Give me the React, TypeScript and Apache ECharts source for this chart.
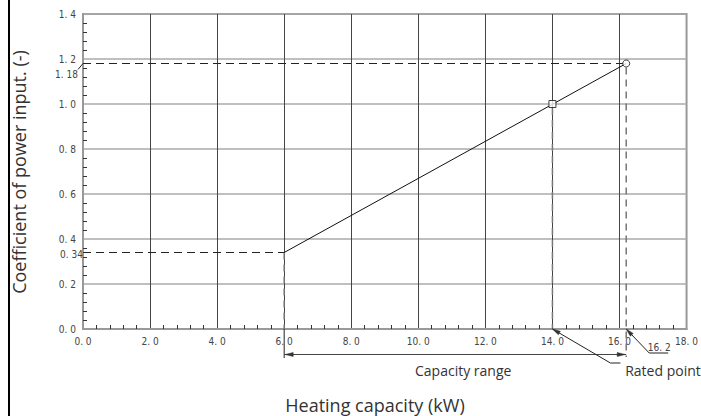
import React, { useEffect, useRef } from "react";
import * as echarts from "echarts";

// Data
const curveX = [6.0, 16.2];
const curveY = [0.34, 1.18];
const pointX = [14.0, 16.2];
const pointY = [1.0, 1.18];
const pointSymbols = ["rect", "circle"];
const xTicks = { min: 0, max: 18, interval: 2 };
const yTicks = { min: 0, max: 1.4, interval: 0.2 };
const minLabel = "0. 34";
const ratedLabel = "1. 18";
const ratedCapLabel = "16. 2";
const rangeLabel = "Capacity range";
const ratedText = "Rated point";
const xTitle = "Heating capacity (kW)";
const yTitle = "Coefficient of power input. (-)";

const fmt = (v: number) => v.toFixed(1).replace(".", ". ");
const tickFont = "'Liberation Sans Narrow', 'DejaVu Sans Condensed', 'DejaVu Sans', sans-serif";
const titleFont = "'Open Sans', 'Noto Sans', sans-serif";

export default function App() {
  const ref = useRef<HTMLDivElement>(null);
  useEffect(() => {
    const chart = echarts.init(ref.current!, null, { renderer: "svg" });
    const x0 = curveX[0], y0 = curveY[0];
    const x1 = curveX[1], y1 = curveY[1];
    const xm = pointX[0], ym = pointY[0];

    const renderAnnotations = (params: any, api: any) => {
      const p = (x: number, y: number) => api.coord([x, y]);
      const a0 = p(0, 0);
      const base = a0[1];
      const pMin = p(x0, y0);
      const pRated = p(x1, y1);
      const pMid = p(xm, ym);
      const vDash = { stroke: "#777", lineWidth: 1.5, lineDash: [7, 5], fill: null };
      const hDash = { stroke: "#222", lineWidth: 1, lineDash: [8, 5], fill: null };
      const thin = { stroke: "#222", lineWidth: 1, fill: null };
      const dimY = base + 25.5;
      const arrow = (tip: number[], from: number[]) => {
        const dx = tip[0] - from[0], dy = tip[1] - from[1];
        const len = Math.sqrt(dx * dx + dy * dy);
        const ux = dx / len, uy = dy / len;
        const L = 8, W = 2;
        return {
          type: "polygon",
          shape: {
            points: [
              tip,
              [tip[0] - ux * L - uy * W, tip[1] - uy * L + ux * W],
              [tip[0] - ux * L + uy * W, tip[1] - uy * L - ux * W],
            ],
          },
          style: { fill: "#333", stroke: "#333", lineWidth: 0.5 },
        };
      };
      const l14a = [pMid[0], base];
      const l14b = [pMid[0] + 58, base + 34];
      const l16a = [pRated[0], base];
      const l16b = [pRated[0] + 23, base + 24];
      const t = (text: string, x: number, y: number, size: number, align: string, font: string, color = "#333") => ({
        type: "text",
        x,
        y,
        style: { text, fontSize: size, fontFamily: font, fill: color, align, verticalAlign: "middle" },
      });
      return {
        type: "group",
        children: [
          { type: "polyline", shape: { points: [[a0[0], pMin[1]], [pMin[0], pMin[1]]] }, style: hDash },
          { type: "line", shape: { x1: pMin[0], y1: pMin[1], x2: pMin[0], y2: base }, style: vDash },
          { type: "polyline", shape: { points: [[a0[0], pRated[1]], [pRated[0], pRated[1]]] }, style: hDash },
          { type: "line", shape: { x1: pRated[0], y1: pRated[1] + 4, x2: pRated[0], y2: base + 28 }, style: vDash },
          { type: "line", shape: { x1: pMid[0], y1: pMid[1] + 4, x2: pMid[0], y2: base }, style: vDash },
          { type: "line", shape: { x1: pMin[0], y1: base, x2: pMin[0], y2: base + 29 }, style: thin },
          { type: "line", shape: { x1: pMin[0], y1: dimY, x2: pRated[0], y2: dimY }, style: { stroke: "#444", lineWidth: 1 } },
          arrow([pMin[0] + 1, dimY], [pMin[0] + 20, dimY]),
          arrow([pRated[0] - 1, dimY], [pRated[0] - 20, dimY]),
          { type: "polyline", shape: { points: [l14a, l14b, [l14b[0] + 10, l14b[1]]] }, style: thin },
          arrow(l14a, l14b),
          { type: "polyline", shape: { points: [l16a, l16b, [l16b[0] + 19, l16b[1]]] }, style: thin },
          arrow(l16a, l16b),
          { type: "line", shape: { x1: a0[0] - 5, y1: pRated[1] + 6, x2: a0[0], y2: pRated[1] }, style: thin },
          t(rangeLabel, (pMin[0] + pRated[0]) / 2 + 8, base + 41, 14, "center", titleFont),
          t(ratedText, pRated[0] - 1, base + 41, 14, "left", titleFont),
          t(ratedCapLabel, l16b[0] + 10, l16b[1] - 6, 10, "center", tickFont, "#444"),
          t(ratedLabel, a0[0] - 5, pRated[1] + 11, 10, "right", tickFont, "#444"),
          t(minLabel, a0[0], pMin[1] + 2, 10, "right", tickFont, "#444"),
        ],
      };
    };

    chart.setOption({
      animation: false,
      grid: {
        left: 83,
        right: 11,
        top: 14,
        bottom: 87,
        show: true,
        borderColor: "#999",
        borderWidth: 2,
        backgroundColor: "transparent",
      },
      xAxis: {
        type: "value",
        min: xTicks.min,
        max: xTicks.max,
        interval: xTicks.interval,
        axisLine: { show: true, lineStyle: { color: "#999", width: 2 } },
        axisTick: { show: false, inside: true, length: 4 },
        minorTick: { show: true, splitNumber: 5, length: 4, lineStyle: { color: "#333", width: 1 } },
        splitLine: { show: true, showMinLine: false, showMaxLine: false, lineStyle: { color: "#444", width: 1 } },
        axisLabel: { formatter: fmt, fontSize: 10, fontFamily: tickFont, color: "#444", margin: 7 },
      },
      yAxis: {
        type: "value",
        min: yTicks.min,
        max: yTicks.max,
        interval: yTicks.interval,
        axisLine: { show: true, lineStyle: { color: "#999", width: 2 } },
        axisTick: { show: false, inside: true, length: 4 },
        minorTick: { show: true, splitNumber: 5, length: 4, lineStyle: { color: "#333", width: 1 } },
        splitLine: { show: true, showMinLine: false, lineStyle: { color: "#aaa", width: 1.5 } },
        axisLabel: { formatter: fmt, fontSize: 10, fontFamily: tickFont, color: "#444", margin: 7 },
      },
      graphic: [
        { type: "rect", shape: { x: 8, y: 0, width: 2, height: 416 }, style: { fill: "#000" } },
        {
          type: "text",
          x: 19,
          y: 172,
          rotation: Math.PI / 2,
          style: { text: yTitle, fontSize: 18, fontFamily: titleFont, fill: "#333", align: "center", verticalAlign: "middle" },
        },
        {
          type: "text",
          x: 375,
          y: 405,
          style: { text: xTitle, fontSize: 18, fontFamily: titleFont, fill: "#333", align: "center", verticalAlign: "middle" },
        },
      ],
      series: [
        {
          type: "custom",
          clip: false,
          silent: true,
          data: [[0, 0]],
          renderItem: renderAnnotations,
          z: 3,
        },
        {
          type: "line",
          data: curveX.map((x, i) => [x, curveY[i]]),
          symbol: "none",
          lineStyle: { color: "#111", width: 1 },
          z: 4,
        },
        {
          type: "scatter",
          data: pointX.map((x, i) => ({ value: [x, pointY[i]], symbol: pointSymbols[i] })),
          symbolSize: 7,
          itemStyle: { color: "#fff", borderColor: "#111", borderWidth: 1 },
          z: 5,
        },
      ],
    });
    return () => chart.dispose();
  }, []);
  return <div ref={ref} style={{ position: "absolute", left: 0, top: 0, width: 701, height: 416 }} />;
}
